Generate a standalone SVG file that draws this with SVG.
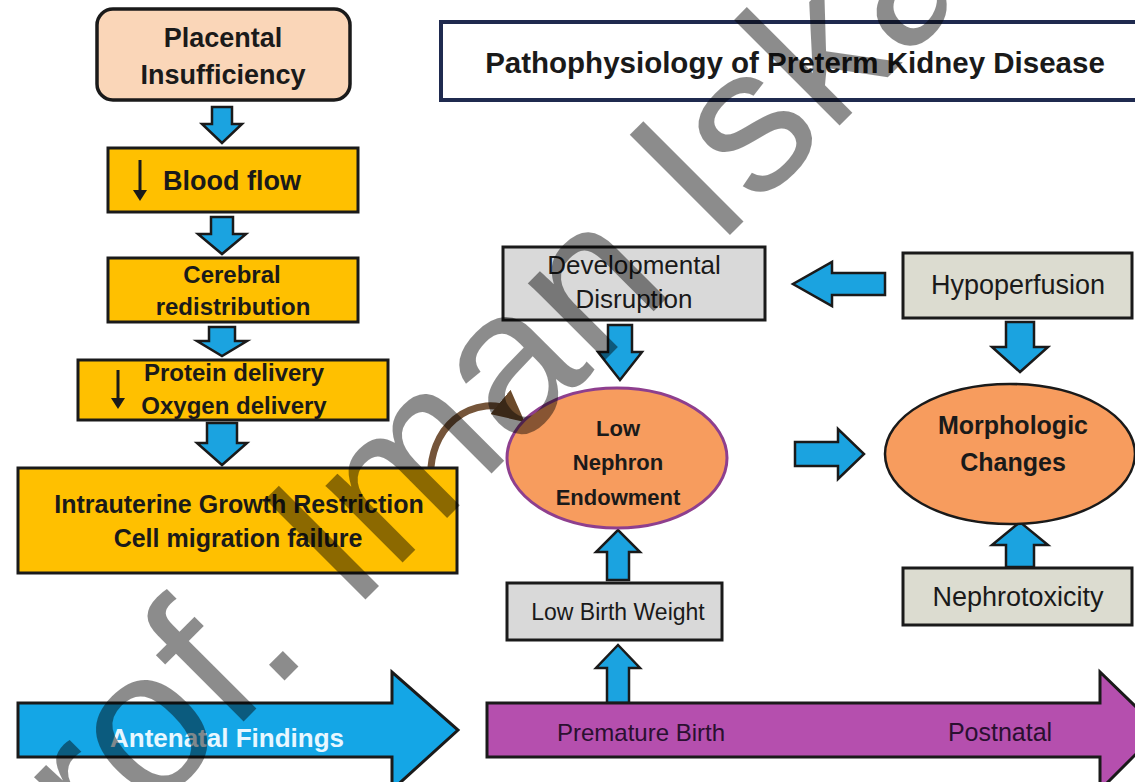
<svg xmlns="http://www.w3.org/2000/svg" width="1135" height="782" viewBox="0 0 1135 782">
<defs>
<style>
.t{font-family:"Liberation Sans",Arial,sans-serif;text-anchor:middle;fill:#1a1a1a}
.b{font-weight:bold}
.ybox{fill:#FFC000;stroke:#1a1a1a;stroke-width:3}
.gbox{fill:#D9D9D9;stroke:#1a1a1a;stroke-width:3}
.hbox{fill:#DCDCD0;stroke:#1a1a1a;stroke-width:3}
.blk{fill:#1BA3E0;stroke:#1a1a1a;stroke-width:2.5;stroke-linejoin:miter}
.glyph{stroke:#1a1a1a;stroke-width:3;fill:none}
</style>
<marker id="brownhead" viewBox="0 0 10 10" refX="6" refY="5" markerWidth="4.5" markerHeight="4.5" orient="auto">
<path d="M0,0 L10,5 L0,10 Z" fill="#6B4A2B"/>
</marker>
</defs>
<rect width="1135" height="782" fill="#ffffff"/>

<g id="connectors">
<path class="blk" d="M212,107 H232 V124 H242 L222,143 L202,124 H212 Z"/>
<path class="blk" d="M211,217 H233 V234 H246 L222,254 L198,234 H211 Z"/>
<path class="blk" d="M209,327 H235 V341 H247 L222,356 L197,341 H209 Z"/>
<path class="blk" d="M207,423 H237 V443 H247 L222,465 L197,443 H207 Z"/>
<path class="blk" d="M608,325 H632 V352 H642 L620,380 L598,352 H608 Z"/>
<path class="blk" d="M1006,322 H1034 V347 H1048 L1020,372 L992,347 H1006 Z"/>
<path class="blk" d="M607,580 H629 V552 H640 L618,530 L596,552 H607 Z"/>
<path class="blk" d="M607,703 H629 V668 H640 L618,645 L596,668 H607 Z"/>
<path class="blk" d="M1006,567 H1034 V545 H1048 L1020,522 L992,545 H1006 Z"/>
<path class="blk" d="M885,273 V295 H832 V306 L793,284 L832,262 V273 Z"/>
<path class="blk" d="M795,442 V466 H838 V479 L864,454 L838,429 V442 Z"/>
<path d="M440,512 C418,470 436,412 486,406 C499,405 509,409 515,414" fill="none" stroke="#75553A" stroke-width="7" stroke-linecap="round" marker-end="url(#brownhead)"/>
</g>

<g id="placental">
<rect x="97" y="9" width="253" height="91" rx="16" fill="#FAD6B8" stroke="#1a1a1a" stroke-width="3.5"/>
<text class="t b" x="223" y="47" font-size="27">Placental</text>
<text class="t b" x="223" y="84" font-size="27">Insufficiency</text>
</g>

<g id="title">
<rect x="441" y="22" width="710" height="78" fill="#ffffff" stroke="#1F2A4F" stroke-width="4"/>
<text class="t b" x="795" y="73" font-size="29.5">Pathophysiology of Preterm Kidney Disease</text>
</g>

<g id="bloodflow">
<rect class="ybox" x="108" y="148" width="250" height="64"/>
<path class="glyph" d="M140,160 V194"/>
<path d="M133,190 L147,190 L140,201 Z" fill="#1a1a1a"/>
<text class="t b" x="232" y="190" font-size="27">Blood flow</text>
</g>

<g id="cerebral">
<rect class="ybox" x="108" y="258" width="250" height="64"/>
<text class="t b" x="232" y="283" font-size="24">Cerebral</text>
<text class="t b" x="233" y="315" font-size="24">redistribution</text>
</g>

<g id="protein">
<rect class="ybox" x="78" y="360" width="310" height="60"/>
<path class="glyph" d="M118,370 V402"/>
<path d="M111,398 L125,398 L118,409 Z" fill="#1a1a1a"/>
<text class="t b" x="234" y="381" font-size="24">Protein delivery</text>
<text class="t b" x="234" y="414" font-size="24">Oxygen delivery</text>
</g>

<g id="iugr">
<rect class="ybox" x="18" y="468" width="439" height="105"/>
<text class="t b" x="239" y="513" font-size="25">Intrauterine Growth Restriction</text>
<text class="t b" x="238" y="547" font-size="25">Cell migration failure</text>
</g>

<g id="developmental">
<rect class="gbox" x="503" y="247" width="262" height="73"/>
<text class="t" x="634" y="274" font-size="26">Developmental</text>
<text class="t" x="634" y="308" font-size="26">Disruption</text>
</g>

<g id="hypoperfusion">
<rect class="hbox" x="903" y="253" width="229" height="65"/>
<text class="t" x="1018" y="294" font-size="27">Hypoperfusion</text>
</g>

<g id="lowNephron">
<ellipse cx="617" cy="458" rx="110" ry="70" fill="#F79C5E" stroke="#8E3F8E" stroke-width="3"/>
<text class="t b" x="618" y="436" font-size="22">Low</text>
<text class="t b" x="618" y="470" font-size="22">Nephron</text>
<text class="t b" x="618" y="505" font-size="22">Endowment</text>
</g>

<g id="morphologic">
<ellipse cx="1010" cy="454" rx="125" ry="70" fill="#F79C5E" stroke="#1a1a1a" stroke-width="2.5"/>
<text class="t b" x="1013" y="434" font-size="25">Morphologic</text>
<text class="t b" x="1013" y="471" font-size="25">Changes</text>
</g>

<g id="lowBirthWeight">
<rect class="gbox" x="507" y="583" width="215" height="57"/>
<text class="t" x="618" y="620" font-size="23">Low Birth Weight</text>
</g>

<g id="nephrotoxicity">
<rect class="hbox" x="903" y="568" width="229" height="57"/>
<text class="t" x="1018" y="606" font-size="27">Nephrotoxicity</text>
</g>

<g id="antenatal">
<path d="M18,703 H392 V672 L458,730 L392,790 V757 H18 Z" fill="#14A6E6" stroke="#1a1a1a" stroke-width="3"/>
<text class="t b" x="227" y="747" font-size="26" style="fill:#E8F7FF">Antenatal Findings</text>
</g>

<g id="timeline">
<path d="M487,703 H1100 V672 L1160,730 L1100,790 V757 H487 Z" fill="#B54FAE" stroke="#1a1a1a" stroke-width="3"/>
<text class="t" x="641" y="741" font-size="24" style="fill:#2A1030">Premature Birth</text>
<text class="t" x="1000" y="741" font-size="25" style="fill:#2A1030">Postnatal</text>
</g>

<g id="watermark">
<text x="0" y="0" transform="translate(4,961) rotate(-45)" font-family="Liberation Sans, Arial, sans-serif" font-size="206" fill="#000000" fill-opacity="0.45">Prof. Iman Iskandar</text>
</g>
</svg>
